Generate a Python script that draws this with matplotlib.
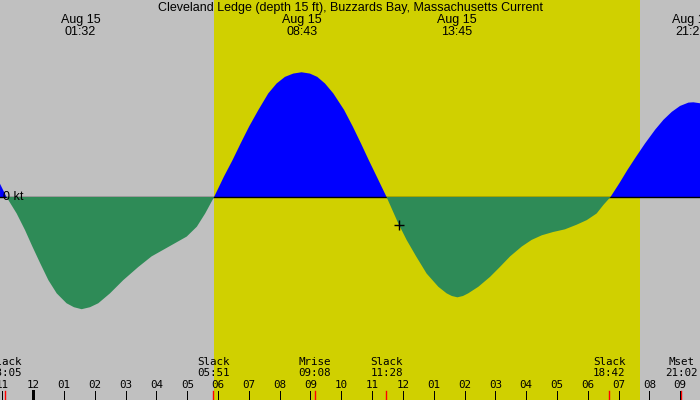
"""
Courbe de courant de marée (style XTide) pour Cleveland Ledge, Buzzards Bay.
Les valeurs ont été relevées à l'œil sur le graphique de référence.
"""

import matplotlib
matplotlib.use("Agg")
import matplotlib.pyplot as plt
import numpy as np

titre = "Cleveland Ledge (depth 15 ft), Buzzards Bay, Massachusetts Current"

# Heures depuis minuit le 15 août, vitesse du courant en noeuds (+ flot, - jusant)
heures = [-1.08, -0.87, -0.54, -0.27, -0.03, 0.22, 0.49, 0.76, 1.08, 1.32, 1.57,
          1.84, 2.11, 2.49, 2.92, 3.41, 3.84, 4.22, 4.60, 4.98, 5.31, 5.58,
          5.87, 6.19, 6.47, 6.73, 7.01, 7.31, 7.63, 7.90, 8.17, 8.44,
          8.71, 8.98, 9.22, 9.47, 9.74, 10.09, 10.37, 10.64, 10.89, 11.15,
          11.47, 11.66, 11.85, 12.12, 12.43, 12.77, 13.15, 13.42, 13.59, 13.77,
          13.95, 14.12, 14.45, 14.83, 15.15, 15.48, 15.86, 16.18, 16.51, 16.88,
          17.26, 17.64, 17.97, 18.29, 18.51, 18.74, 19.03, 19.29, 19.57, 19.86,
          20.19, 20.46, 20.73, 21.00, 21.27, 21.43, 21.65]
courant = [0.20, 0.00, -0.25, -0.50, -0.75, -1.00, -1.26, -1.46, -1.61, -1.67, -1.70,
           -1.67, -1.61, -1.46, -1.26, -1.06, -0.90, -0.80, -0.70, -0.60, -0.45, -0.25,
           0.00, 0.31, 0.56, 0.81, 1.07, 1.32, 1.57, 1.72, 1.82, 1.87,
           1.89, 1.87, 1.82, 1.72, 1.57, 1.32, 1.07, 0.81, 0.56, 0.31,
           0.00, -0.20, -0.40, -0.65, -0.90, -1.16, -1.36, -1.46, -1.50, -1.52,
           -1.50, -1.46, -1.36, -1.21, -1.06, -0.90, -0.75, -0.65, -0.58, -0.53,
           -0.49, -0.42, -0.35, -0.25, -0.12, 0.00, 0.21, 0.41, 0.61, 0.81,
           1.02, 1.17, 1.29, 1.38, 1.43, 1.435, 1.42]

# Maxima de flot / jusant (étiquettes du haut)
extremes_h = [1.533, 8.717, 13.75, 21.367]
extremes_txt = ["Aug 15\n01:32", "Aug 15\n08:43", "Aug 15\n13:45", "Aug 15\n21:22"]

# Événements (étiquettes du bas + repères rouges)
evenements_h = [-0.917, 5.85, 9.133, 11.467, 18.70, 21.033]
evenements_nom = ["Slack", "Slack", "Mrise", "Slack", "Slack", "Mset"]
evenements_txt = ["23:05", "05:51", "09:08", "11:28", "18:42", "21:02"]

# Graduations horaires
heures_ticks = list(range(-1, 22))
heures_labels = ["11", "12", "01", "02", "03", "04", "05", "06", "07", "08", "09", "10",
                 "11", "12", "01", "02", "03", "04", "05", "06", "07", "08", "09"]

# Lever / coucher du soleil
lever_soleil = 5.87
coucher_soleil = 19.70

# Position actuelle (croix)
maintenant_h = 11.87
maintenant_v = -0.43

GRIS = "#c0c0c0"
JAUNE = "#d0d000"
BLEU = "#0000ff"
VERT = "#2e8b57"

fig = plt.figure(figsize=(7, 4), dpi=100)
ax = fig.add_axes([0, 0, 1, 1])
ax.set_facecolor(GRIS)
ax.set_xlim(-1.081, 21.646)
ax.set_ylim(-203 / 66, 197 / 66)
ax.axis("off")
fig.patch.set_facecolor(GRIS)

# Jour en jaune
ax.axvspan(lever_soleil, coucher_soleil, color=JAUNE, lw=0, zorder=0)

h = np.array(heures)
v = np.array(courant)
ax.fill_between(h, v, 0, where=v >= 0, color=BLEU, lw=0, interpolate=True, zorder=2)
ax.axhline(0, color="black", lw=1.0, zorder=3)
ax.fill_between(h, v, 0, where=v <= 0, color=VERT, lw=0, interpolate=True, zorder=4)

ax.plot([maintenant_h], [maintenant_v], marker="+", color="black", ms=7, mew=1.0, zorder=5)

sans = ["Liberation Sans", "DejaVu Sans"]
mono = ["DejaVu Sans Mono"]
tr = ax.get_xaxis_transform()

# Titre et étiquettes du haut
ax.text(0.5, 1 - 7.5 / 400, titre, transform=ax.transAxes, ha="center", va="center",
        fontsize=9, family=sans, zorder=6)
for x, txt in zip(extremes_h, extremes_txt):
    ax.text(x, 1 - 26 / 400, txt, transform=tr, ha="center", va="center",
            fontsize=9, family=sans, linespacing=1.0, zorder=6)

ax.text(0.004, 0, "0 kt", ha="left", va="center", fontsize=9, family=sans,
        transform=matplotlib.transforms.blended_transform_factory(ax.transAxes, ax.transData),
        zorder=6)

# Événements en bas
for x, nom, txt in zip(evenements_h, evenements_nom, evenements_txt):
    ax.text(x, 1 - 362 / 400, nom, transform=tr, ha="center", va="center",
            fontsize=7.8, family=mono, zorder=6)
    ax.text(x, 1 - 373.5 / 400, txt, transform=tr, ha="center", va="center",
            fontsize=7.8, family=mono, zorder=6)
    ax.plot([x, x], [0, 9 / 400], transform=tr, color="red", lw=1.0, zorder=6)

# Graduations horaires
for x, lab in zip(heures_ticks, heures_labels):
    ax.text(x, 1 - 385 / 400, lab, transform=tr, ha="center", va="center",
            fontsize=7.8, family=mono, zorder=6)
    epais = 3.0 if x == 0 else 1.0
    ax.plot([x, x], [0, 9 / 400], transform=tr, color="black", lw=epais * 0.72, zorder=6)

fig.savefig("out.png", dpi=100, facecolor=GRIS)
